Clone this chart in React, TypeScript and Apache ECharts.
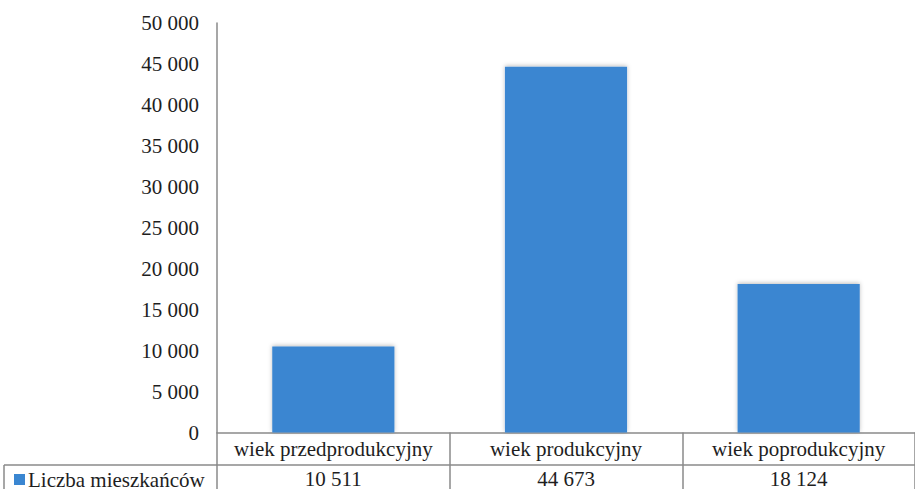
import React, { useEffect, useRef } from "react";
import * as echarts from "echarts";

const categories = ["wiek przedprodukcyjny", "wiek produkcyjny", "wiek poprodukcyjny"];
const seriesName = "Liczba mieszkańców";
const values = [10511, 44673, 18124];
const yMin = 0;
const yMax = 50000;
const yInterval = 5000;

const fmt = (v: number) => String(v).replace(/\B(?=(\d{3})+(?!\d))/g, " ");

const FONT = "'Liberation Serif', 'Times New Roman', serif";
const LINE = "#8a8a8a";
const TEXT = "#1e1e1e";
const BAR = "#3a86d1";

export default function App() {
  const ref = useRef<HTMLDivElement>(null);
  useEffect(() => {
    document.body.style.margin = "0";
    document.body.style.overflow = "hidden";
    if (!ref.current) return;
    const chart = echarts.init(ref.current, undefined, { renderer: "svg" });
    chart.setOption({
      animation: false,
      backgroundColor: "#ffffff",
      textStyle: { fontFamily: FONT, color: TEXT },
      grid: { left: 217, top: 23, width: 708, height: 410, containLabel: false },
      legend: {
        show: true,
        left: 14,
        top: 469,
        icon: "rect",
        itemWidth: 11,
        itemHeight: 11,
        itemGap: 5,
        padding: 0,
        textStyle: { fontFamily: FONT, fontSize: 21, lineHeight: 18, color: TEXT, padding: [0, 0, 2, -2] },
        data: [seriesName],
      },
      xAxis: [
        {
          type: "category",
          data: categories,
          position: "bottom",
          axisLine: { show: true, lineStyle: { color: LINE, width: 1.5 } },
          axisTick: { show: true, length: 70, lineStyle: { color: LINE, width: 1.5 } },
          axisLabel: { margin: 6, fontFamily: FONT, fontSize: 21, color: TEXT, interval: 0 },
          splitLine: { show: false },
        },
        {
          type: "category",
          data: values.map(fmt),
          position: "bottom",
          offset: 32,
          axisLine: { show: true, onZero: false, lineStyle: { color: LINE, width: 1.5 } },
          axisTick: { show: false },
          axisLabel: { margin: 5, fontFamily: FONT, fontSize: 21, lineHeight: 18, color: TEXT, interval: 0 },
          splitLine: { show: false },
        },
      ],
      yAxis: {
        type: "value",
        min: yMin,
        max: yMax,
        interval: yInterval,
        axisLine: { show: true, lineStyle: { color: LINE, width: 1.5 } },
        axisTick: { show: false },
        splitLine: { show: false },
        axisLabel: {
          margin: 18,
          fontFamily: FONT,
          fontSize: 21,
          color: TEXT,
          formatter: (v: number) => fmt(v),
        },
      },
      series: [
        {
          name: seriesName,
          type: "bar",
          data: values,
          xAxisIndex: 0,
          barWidth: "52.5%",
          itemStyle: {
            color: BAR,
            shadowColor: "rgba(0,0,0,0.25)",
            shadowBlur: 4,
            shadowOffsetY: -1,
          },
        },
      ],
      graphic: [
        {
          type: "line",
          shape: { x1: 4, y1: 465, x2: 217, y2: 465 },
          style: { stroke: LINE, lineWidth: 1.5 },
        },
        {
          type: "line",
          shape: { x1: 4, y1: 465, x2: 4, y2: 489 },
          style: { stroke: LINE, lineWidth: 1.5 },
        },
      ],
    });
    return () => chart.dispose();
  }, []);
  return <div ref={ref} style={{ width: 915, height: 489 }} />;
}
